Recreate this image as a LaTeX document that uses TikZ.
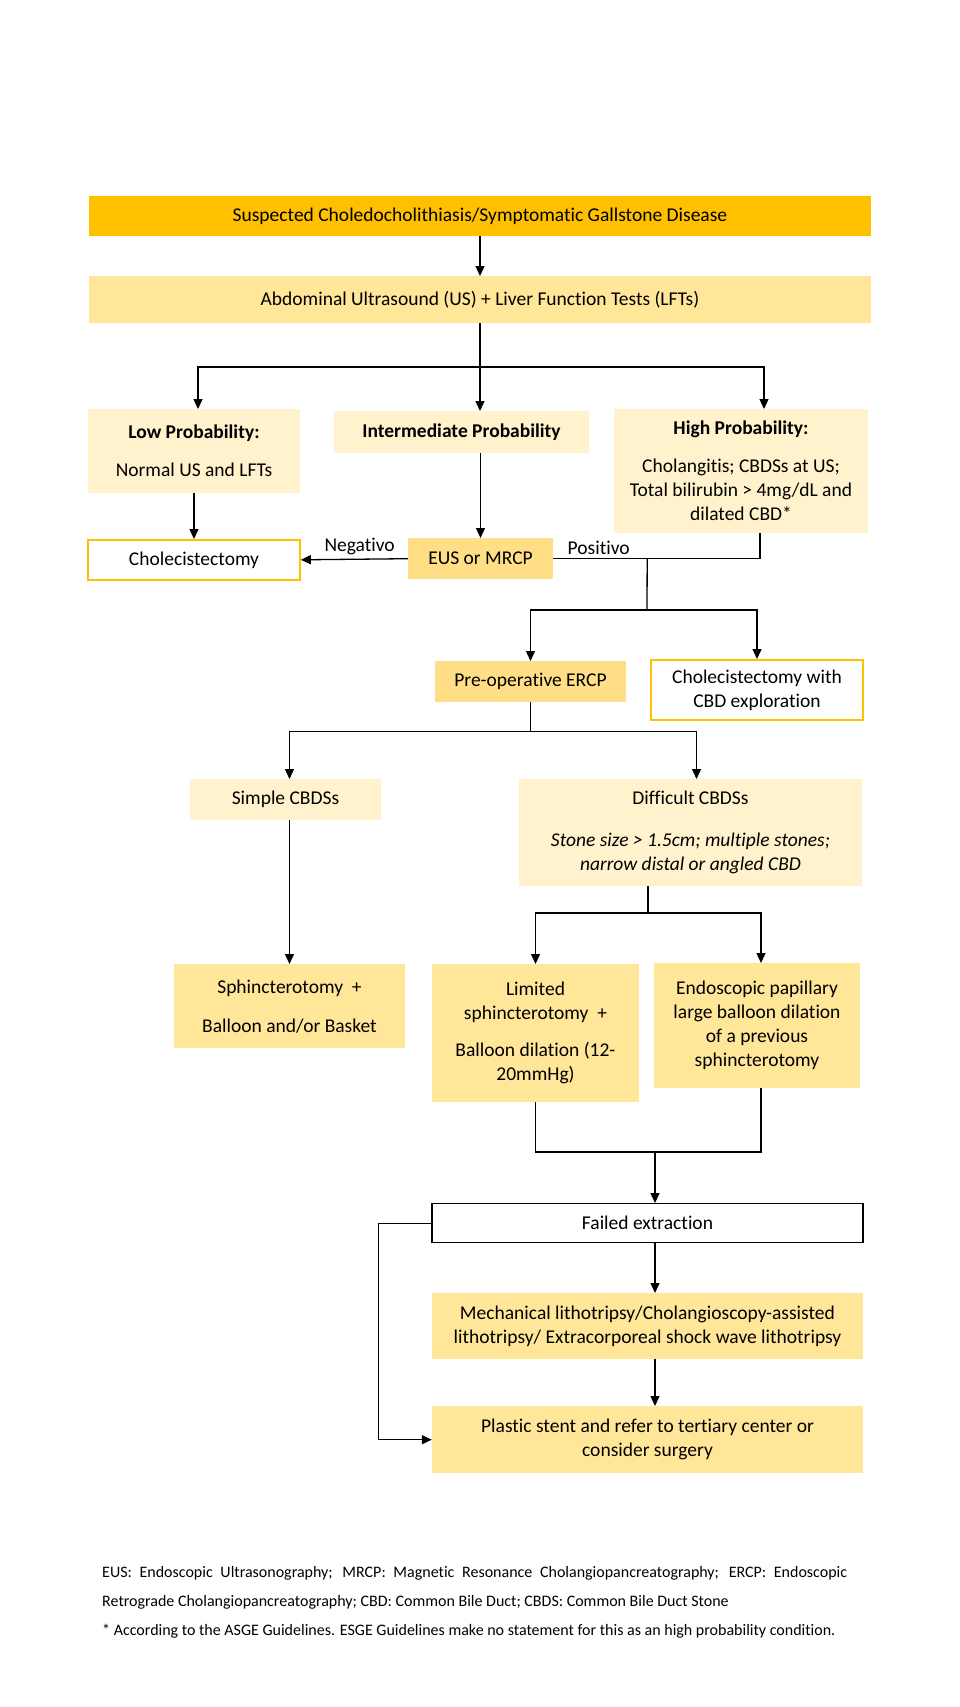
\documentclass[tikz,border=0pt]{standalone}
\usepackage{fontspec}
\setmainfont{Carlito}[Ligatures=NoCommon]
\usetikzlibrary{arrows.meta}
\definecolor{boxgold}{RGB}{255,192,0}
\definecolor{boxpale}{RGB}{255,242,204}
\definecolor{boxlight}{RGB}{255,230,153}
\definecolor{boxmid}{RGB}{255,222,133}
\newcommand\boxfont{\fontsize{19.5}{24}\selectfont}
\newcommand\notefont{\fontsize{16}{29}\selectfont}
\tikzset{
  card/.style={anchor=north,align=center,inner sep=0pt},
  goldcard/.style={card,fill=boxgold},
  palecard/.style={card,fill=boxpale},
  lightcard/.style={card,fill=boxlight},
  midcard/.style={card,fill=boxmid},
  outlinecard/.style={card,fill=white,draw=boxgold,line width=1.6pt},
  blackcard/.style={card,fill=white,draw=black,line width=1.4pt},
  link/.style={line width=1.3pt},
  arr/.style={link,-{Triangle[length=10pt,width=9pt]}},
  note/.style={anchor=base west,inner sep=0pt,font=\notefont}
}

\begin{document}
\begin{tikzpicture}[x=1pt,y=-1pt,font=\boxfont]
  \useasboundingbox (0,0) rectangle (960,1707);

  % boxes
  \node[goldcard,minimum width=782pt,minimum height=40pt] (suspect) at (480,196)
    {Suspected Choledocholithiasis/Symptomatic Gallstone Disease};
  \node[lightcard,minimum width=782pt,minimum height=47pt] (abdus) at (480,276)
    {Abdominal Ultrasound (US) + Liver Function Tests (LFTs)};
  \node[palecard,minimum width=212pt,minimum height=84pt] (lowprob) at (194,409)
    {\textbf{Low Probability:}\\[14pt]Normal US and LFTs};
  \node[palecard,minimum width=255pt,minimum height=42pt] (intprob) at (461.5,411)
    {\textbf{Intermediate Probability}};
  \node[palecard,minimum width=254pt,minimum height=124pt] (highprob) at (741,409)
    {\textbf{High Probability:}\\[14pt]Cholangitis; CBDSs at US;\\Total bilirubin > 4mg/dL and\\dilated CBD*};
  \node[outlinecard,minimum width=212pt,minimum height=40pt] (chole) at (194,539)
    {Cholecistectomy};
  \node[midcard,minimum width=145pt,minimum height=41pt] (eusmrcp) at (480.5,538)
    {EUS or MRCP};
  \node[midcard,minimum width=191pt,minimum height=41pt] (preop) at (530.5,661)
    {Pre-operative ERCP};
  \node[outlinecard,minimum width=212pt,minimum height=60pt] (cholecbd) at (757,659)
    {Cholecistectomy with\\CBD exploration};
  \node[palecard,minimum width=191pt,minimum height=41pt] (simple) at (285.5,779)
    {Simple CBDSs};
  \node[palecard,minimum width=343pt,minimum height=107pt] (difficult) at (690.5,779)
    {Difficult CBDSs\\[18pt]\textit{Stone size > 1.5cm; multiple stones;}\\\textit{narrow distal or angled CBD}};
  \node[lightcard,minimum width=231pt,minimum height=84pt] (sphinct) at (289.5,964)
    {Sphincterotomy~~+\\[15pt]Balloon and/or Basket};
  \node[lightcard,minimum width=207pt,minimum height=138pt] (limited) at (535.5,964)
    {Limited\\sphincterotomy~~+\\[13pt]Balloon dilation (12-\\20mmHg)};
  \node[lightcard,minimum width=206pt,minimum height=125pt] (epldb) at (757,963)
    {Endoscopic papillary\\large balloon dilation\\of a previous\\sphincterotomy};
  \node[blackcard,minimum width=431pt,minimum height=39pt] (failed) at (647.5,1203)
    {Failed extraction};
  \node[lightcard,minimum width=431pt,minimum height=66pt] (mech) at (647.5,1293)
    {Mechanical lithotripsy/Cholangioscopy-assisted\\lithotripsy/ Extracorporeal shock wave lithotripsy};
  \node[lightcard,minimum width=431pt,minimum height=67pt] (plastic) at (647.5,1406)
    {Plastic stent and refer to tertiary center or\\consider surgery};

  % footnotes
  \node[note] (abbrev1) at (102,1577)
    {\makebox[745pt][s]{EUS: Endoscopic Ultrasonography; MRCP: Magnetic Resonance Cholangiopancreatography; ERCP: Endoscopic}};
  \node[note] (abbrev2) at (102,1606)
    {Retrograde Cholangiopancreatography; CBD: Common Bile Duct; CBDS: Common Bile Duct Stone};
  \node[note] (asgenote) at (102,1635)
    {* According to the ASGE Guidelines. ESGE Guidelines make no statement for this as an high probability condition.};

  % connectors
  \coordinate (split1) at (480,367);
  \draw[arr] (suspect) -- (abdus);
  \draw[link] (abdus.south) -- (split1);
  \draw[arr] (split1) -| ([xshift=4pt]lowprob.north);
  \draw[arr] (split1) -- (split1 |- intprob.north);
  \draw[arr] (split1) -| ([xshift=23pt]highprob.north);
  \draw[arr] (lowprob.south) -- (chole.north);
  \draw[arr] (eusmrcp.north |- intprob.south) -- (eusmrcp.north);
  \draw[arr] (eusmrcp.west) -- node[above,pos=0.45] {Negativo} (chole.east);
  \draw[link] (eusmrcp.east) -| node[above,pos=0.11] {Positivo} ([xshift=19pt]highprob.south);

  \coordinate (split2) at ([xshift=94pt]eusmrcp.east);
  \coordinate (split3) at (647,610);
  \draw[link] (split2) -- (split3);
  \draw[arr] (split3) -| (preop.north);
  \draw[arr] (split3) -| (cholecbd.north);

  \coordinate (split4) at ([yshift=-29pt]preop.south);
  \draw[link] (preop.south) -- (split4);
  \draw[arr] (split4) -| ([xshift=4pt]simple.north);
  \draw[arr] (split4) -| ([xshift=6pt]difficult.north);
  \draw[arr] (sphinct.north |- simple.south) -- (sphinct.north);

  \coordinate (split5) at (648,913);
  \draw[link] (split5 |- difficult.south) -- (split5);
  \draw[arr] (split5) -| (limited.north);
  \draw[arr] (split5) -| ([xshift=4pt]epldb.north);

  \coordinate (merge1) at (655,1152);
  \draw[link] (limited.south) |- (merge1) -| ([xshift=4pt]epldb.south);
  \draw[arr] (merge1) -- (merge1 |- failed.north);
  \draw[arr] (merge1 |- failed.south) -- (merge1 |- mech.north);
  \draw[arr] (merge1 |- mech.south) -- (merge1 |- plastic.north);
  \draw[arr] (failed.west) -- ++(-53,0) |- (plastic.west);
\end{tikzpicture}
\end{document}
